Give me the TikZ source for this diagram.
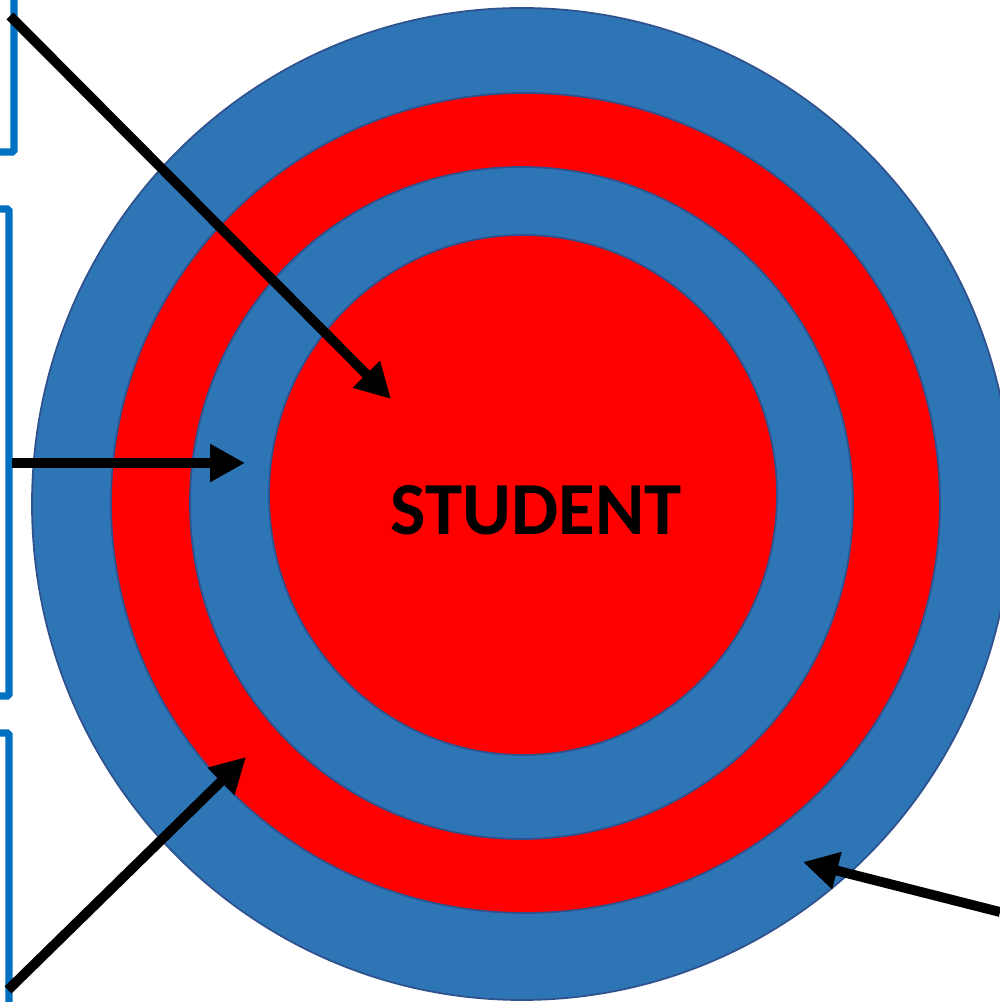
\documentclass[tikz,border=0pt]{standalone}
\usepackage{fontspec}
\setmainfont{Carlito}
\usetikzlibrary{arrows.meta}
\definecolor{ringblue}{HTML}{2E75B6}
\definecolor{ringred}{HTML}{FF0000}
\definecolor{ringline}{HTML}{2F528F}
\definecolor{bracketblue}{HTML}{0070C0}
\tikzset{
	ring/.style={draw=ringline, line width=0.5pt},
	bracket/.style={bracketblue, line width=2.1pt, rounded corners=0.5pt},
	pointer/.style={line width=2.8pt, -{Triangle[length=0.35cm, width=0.36cm]}}
}
\begin{document}
\begin{tikzpicture}
		\useasboundingbox (0,0) rectangle (10,10.02);

		\draw [ring, fill=ringblue] (5.22,4.98) ellipse (4.90cm and 4.96cm);
		\draw [ring, fill=ringred] (5.255,4.99) ellipse (4.145cm and 4.10cm);
		\draw [ring, fill=ringblue] (5.215,4.99) ellipse (3.315cm and 3.36cm);
		\draw [ring, fill=ringred] (5.23,5.07) ellipse (2.54cm and 2.60cm);

		\node (STU) at (5.36,4.92) {\fontsize{21.3}{25}\selectfont\bfseries STUDENT};

		% brackets on the left
		\draw [bracket] (0,8.50) -- (0.14,8.50) -- (0.14,10.1);
		\draw [bracket] (0,7.93) -- (0.09,7.93) -- (0.09,3.06) -- (0,3.06);
		\draw [bracket] (0,2.69) -- (0.09,2.69) -- (0.09,-0.1);

		\coordinate (T1) at (0.10,9.86);
		\coordinate (H1) at (3.91,6.03);
		\coordinate (T2) at (0.12,5.39);
		\coordinate (H2) at (2.45,5.39);
		\coordinate (T3) at (0.08,0.12);
		\coordinate (H3) at (2.46,2.45);
		\coordinate (T4) at (10.0,0.90);
		\coordinate (H4) at (8.03,1.40);

		\draw [pointer] (T1) -- (H1);
		\draw [pointer] (T2) -- (H2);
		\draw [pointer] (T3) -- (H3);
		\draw [pointer] (T4) -- (H4);

\end{tikzpicture}
\end{document}
